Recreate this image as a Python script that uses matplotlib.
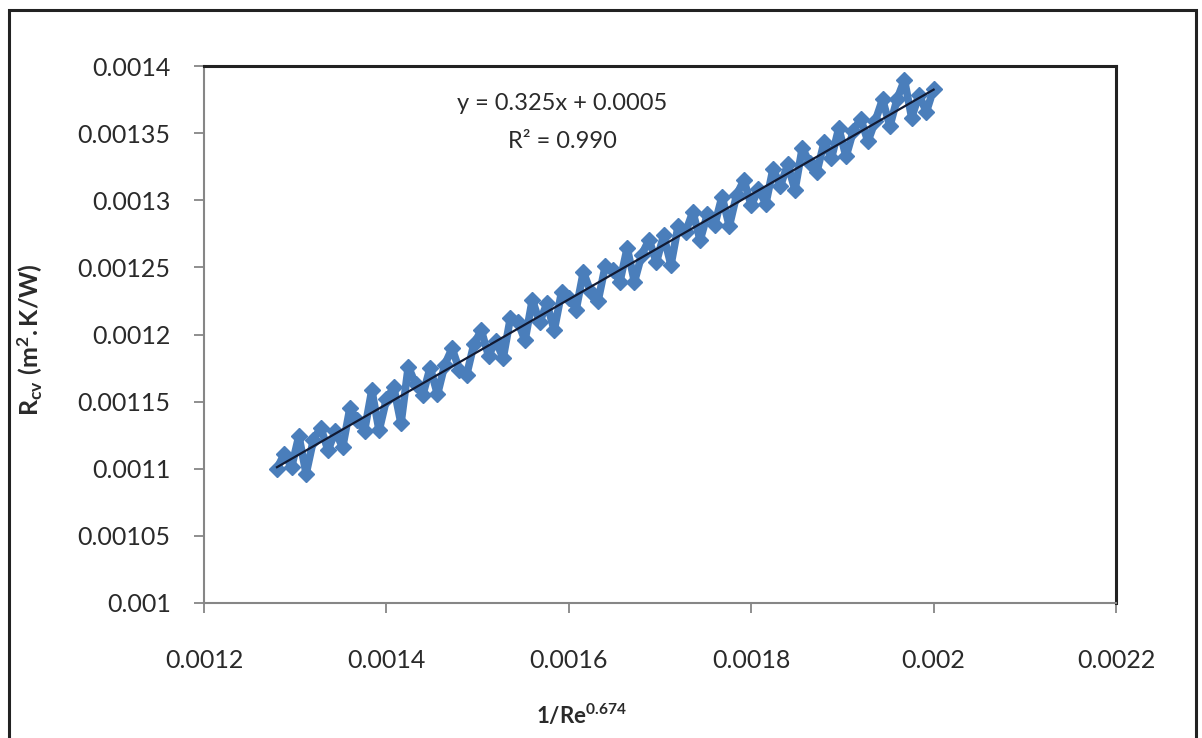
import numpy as np
import matplotlib
matplotlib.use("Agg")
import matplotlib.pyplot as plt
from matplotlib.patches import Rectangle

plt.rcParams['font.family'] = ['Lato', 'DejaVu Sans']
plt.rcParams['mathtext.fontset'] = 'custom'
plt.rcParams['mathtext.rm'] = 'Lato'
plt.rcParams['mathtext.it'] = 'Lato:italic'
plt.rcParams['mathtext.bf'] = 'Lato:bold'

# x: 1/Re^0.674
x_vals = [0.001280, 0.001288, 0.001296, 0.001304, 0.001312, 0.001320, 0.001328, 0.001336, 0.001344, 0.001352,
          0.001360, 0.001368, 0.001376, 0.001384, 0.001392, 0.001400, 0.001408, 0.001416, 0.001424, 0.001432,
          0.001440, 0.001448, 0.001456, 0.001464, 0.001472, 0.001480, 0.001488, 0.001496, 0.001504, 0.001512,
          0.001520, 0.001528, 0.001536, 0.001544, 0.001552, 0.001560, 0.001568, 0.001576, 0.001584, 0.001592,
          0.001600, 0.001608, 0.001616, 0.001624, 0.001632, 0.001640, 0.001648, 0.001656, 0.001664, 0.001672,
          0.001680, 0.001688, 0.001696, 0.001704, 0.001712, 0.001720, 0.001728, 0.001736, 0.001744, 0.001752,
          0.001760, 0.001768, 0.001776, 0.001784, 0.001792, 0.001800, 0.001808, 0.001816, 0.001824, 0.001832,
          0.001840, 0.001848, 0.001856, 0.001864, 0.001872, 0.001880, 0.001888, 0.001896, 0.001904, 0.001912,
          0.001920, 0.001928, 0.001936, 0.001944, 0.001952, 0.001960, 0.001968, 0.001976, 0.001984, 0.001992,
          0.002000]

# R_cv (m2.K/W)
r_vals = [0.0011000, 0.0011111, 0.0011012, 0.0011243, 0.0010964, 0.0011216, 0.0011307, 0.0011138, 0.0011279, 0.0011160,
          0.0011451, 0.0011362, 0.0011283, 0.0011584, 0.0011285, 0.0011517, 0.0011608, 0.0011339, 0.0011760, 0.0011631,
          0.0011552, 0.0011753, 0.0011554, 0.0011775, 0.0011896, 0.0011738, 0.0011699, 0.0011930, 0.0012031, 0.0011842,
          0.0011953, 0.0011824, 0.0012125, 0.0012096, 0.0011957, 0.0012259, 0.0012090, 0.0012231, 0.0012032, 0.0012313,
          0.0012274, 0.0012185, 0.0012466, 0.0012317, 0.0012248, 0.0012510, 0.0012481, 0.0012392, 0.0012643, 0.0012394,
          0.0012595, 0.0012706, 0.0012537, 0.0012738, 0.0012519, 0.0012811, 0.0012762, 0.0012913, 0.0012704, 0.0012895,
          0.0012816, 0.0013027, 0.0012808, 0.0013039, 0.0013150, 0.0012962, 0.0013083, 0.0012974, 0.0013235, 0.0013106,
          0.0013267, 0.0013078, 0.0013389, 0.0013280, 0.0013211, 0.0013433, 0.0013314, 0.0013535, 0.0013326, 0.0013517,
          0.0013608, 0.0013439, 0.0013590, 0.0013751, 0.0013552, 0.0013754, 0.0013895, 0.0013616, 0.0013787, 0.0013658,
          0.0013829]

eq_text = "y = 0.325x + 0.0005"
r2_text = "R² = 0.990"
x_ticks = [0.0012, 0.0014, 0.0016, 0.0018, 0.002, 0.0022]
x_tick_labels = ["0.0012", "0.0014", "0.0016", "0.0018", "0.002", "0.0022"]
y_ticks = [0.001, 0.00105, 0.0011, 0.00115, 0.0012, 0.00125, 0.0013, 0.00135, 0.0014]
y_tick_labels = ["0.001", "0.00105", "0.0011", "0.00115", "0.0012", "0.00125", "0.0013", "0.00135", "0.0014"]

W, H = 1202, 738
fig = plt.figure(figsize=(W / 100, H / 100), dpi=100)
fig.patch.set_facecolor('white')

ax = fig.add_axes([204 / W, 1 - 603 / H, (1116 - 204) / W, (603 - 66) / H])

x = np.array(x_vals)
y = np.array(r_vals)
blue = '#4a7ebb'
ax.plot(x, y, color=blue, lw=5.5, marker='D', ms=8.5, mfc=blue, mec=blue,
        solid_joinstyle='round', solid_capstyle='round', zorder=2)

coef = np.polyfit(x, y, 1)
xf = np.array([x.min(), x.max()])
ax.plot(xf, np.polyval(coef, xf), color='#111a33', lw=1.6, zorder=3)

ax.set_xlim(0.0012, 0.0022)
ax.set_ylim(0.001, 0.0014)
ax.set_xticks(x_ticks)
ax.set_xticklabels(x_tick_labels)
ax.set_yticks(y_ticks)
ax.set_yticklabels(y_tick_labels)

for side in ['left', 'bottom']:
    ax.spines[side].set_color('#868686')
    ax.spines[side].set_linewidth(1.5)
for side in ['top', 'right']:
    ax.spines[side].set_color('#222222')
    ax.spines[side].set_linewidth(2.2)

ax.tick_params(axis='both', direction='out', length=7, width=1.3, color='#868686',
               labelsize=18, labelcolor='#2a2a2a')
ax.tick_params(axis='y', pad=17)
ax.tick_params(axis='x', pad=26)

fig.text(562 / W, 1 - 104 / H, eq_text, ha='center', va='center', fontsize=17, color='#2a2a2a')
fig.text(562 / W, 1 - 141 / H, r2_text, ha='center', va='center', fontsize=17, color='#2a2a2a')

fig.text(582 / W, 1 - 715 / H, r'$\mathbf{1/Re^{0.674}}$', ha='center', va='center',
         fontsize=16, color='#2a2a2a')
fig.text(30 / W, 1 - 340 / H, r'$\mathbf{R_{cv}\ (m^{2}.K/W)}$', ha='center', va='center',
         rotation=90, fontsize=18, color='#2a2a2a')

fig.patches.append(Rectangle((9 / W, -0.02), (1196 - 9) / W, (1 - 10 / H) + 0.02,
                             transform=fig.transFigure, fill=False, edgecolor='#222222',
                             linewidth=2.2))

fig.savefig('out.png', dpi=100)
